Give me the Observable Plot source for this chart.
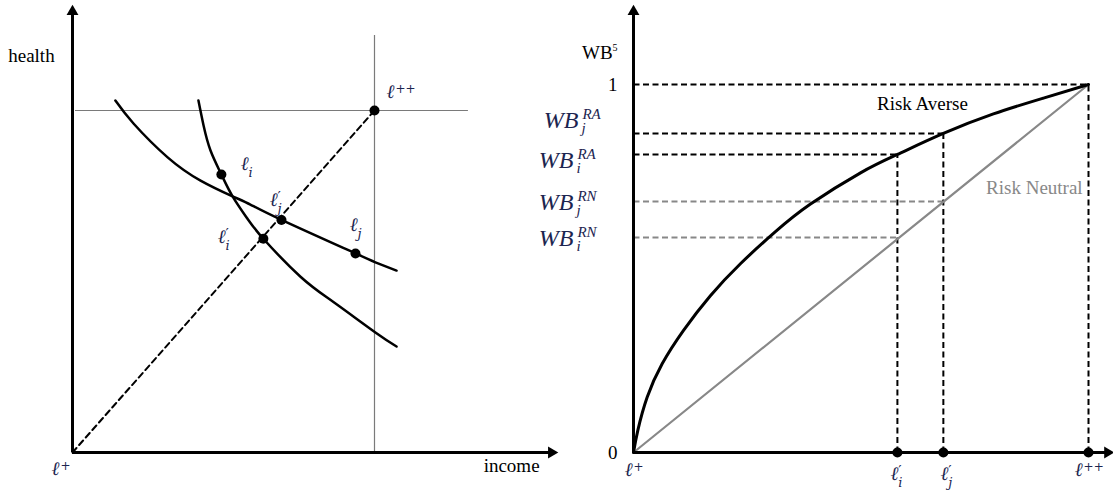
<!DOCTYPE html>
<html><head><meta charset="utf-8">
<script src="https://cdn.jsdelivr.net/npm/d3@7"></script>
<script src="https://cdn.jsdelivr.net/npm/@observablehq/plot@0.6"></script>
<style>
html,body{margin:0;padding:0;background:#fff;}
#wrap{display:flex;width:1113px;height:496px;overflow:hidden;background:#fff;}
#wrap svg{display:block;overflow:visible;}
</style></head><body><div id="wrap"></div>
<script>
// ---------- LEFT PANEL: income (x) / health (y), ℓ++ = (1, 1) ----------
const curveAIncome = [0.142, 0.202, 0.315, 0.424, 0.530, 0.589, 0.692, 0.937, 1.003, 1.073];
const curveAHealth = [1.029, 0.962, 0.863, 0.795, 0.749, 0.725, 0.680, 0.582, 0.556, 0.532];
const curveBIncome = [0.417, 0.434, 0.457, 0.493, 0.530, 0.579, 0.632, 0.755, 0.864, 1.003, 1.073];
const curveBHealth = [1.029, 0.956, 0.883, 0.813, 0.749, 0.684, 0.625, 0.514, 0.440, 0.351, 0.310];
const pointIncome = [0.493, 0.632, 0.692, 0.937, 1];     // ℓi, ℓ'i, ℓ'j, ℓj, ℓ++
const pointHealth = [0.813, 0.625, 0.680, 0.582, 1];
const diagIncome = [0, 1];
const diagHealth = [0, 1];
const leftAxisEnd = [1.586, 1.289];      // income arrow, health arrow
const leftGuide = [1.311, 1.219];        // extent of thin guide lines through ℓ++
const leftLabelMain = ["ℓ", "ℓ", "ℓ", "ℓ", "ℓ", "ℓ"];
const leftLabelSup  = ["", "′", "′", "", "++", "+"];
const leftLabelSub  = ["i", "j", "i", "j", "", ""];
const leftLabelX = [0.583, 0.679, 0.507, 0.944, 1.066, -0.043];
const leftLabelY = [0.825, 0.722, 0.614, 0.649, 1.038, -0.067];
const leftAxisTitles = ["health", "income"];
const leftAxisTitleX = [-0.136, 1.454];
const leftAxisTitleY = [1.161, -0.038];

// ---------- RIGHT PANEL: outcome (x) / WB (y) ----------
const wbIncome      = [0, 0.0095, 0.030, 0.063, 0.110, 0.169, 0.235, 0.312, 0.389, 0.499, 0.580, 0.681, 0.791, 0.901, 1];
const wbRiskAverse  = [0, 0.060, 0.150, 0.241, 0.332, 0.426, 0.513, 0.600, 0.675, 0.760, 0.810, 0.867, 0.920, 0.963, 1];
const rnIncome = [0, 1];
const rnWB = [0, 1];
const outcomeX  = [0.580, 0.681, 1];     // ℓ'i, ℓ'j, ℓ++
const outcomeRA = [0.810, 0.867, 1];
const outcomeRN = [0.584, 0.682];
const rightAxisEnd = [1.042, 1.198];
const wbTickText = ["0", "1"];
const wbTickValue = [0, 1];
const wbLabelSup = ["RA", "RA", "RN", "RN"];
const wbLabelSub = ["j", "i", "j", "i"];
const wbLabelX = [-0.121, -0.132, -0.132, -0.132];
const wbLabelY = [0.883, 0.774, 0.658, 0.5625];
const rightLabelMain = ["ℓ", "ℓ", "ℓ", "ℓ"];
const rightLabelSup  = ["+", "′", "′", "++"];
const rightLabelSub  = ["", "i", "j", ""];
const rightLabelX = [-0.002, 0.582, 0.692, 0.987];
const rightLabelY = [-0.0625, -0.076, -0.076, -0.0625];
const curveNames = ["Risk Averse", "Risk Neutral"];
const curveNameX = [0.635, 0.881];
const curveNameY = [0.946, 0.720];
const yTitle = ["WB"], yTitleSup = ["5"];

// ---------- helpers ----------
const idx = a => a.map((_, i) => i);
const NAVY = "#1c2550";
const SERIF = "'Liberation Serif', 'Times New Roman', Times, serif";
const MATH = "'DejaVu Serif', 'Liberation Serif', serif";

function mathLabels(main, sup, sub, X, Y) {
  const I = idx(main);
  return [
    Plot.text(I, {x: i => X[i], y: i => Y[i], text: i => main[i], textAnchor: "end", lineAnchor: "bottom",
      fontFamily: MATH, fontStyle: "italic", fontSize: 19, fill: NAVY}),
    Plot.text(I.filter(i => sup[i] === "′"), {x: i => X[i], y: i => Y[i], text: i => sup[i], textAnchor: "start", lineAnchor: "bottom",
      dx: 0, dy: -4, fontFamily: MATH, fontSize: 15, fill: NAVY}),
    Plot.text(I.filter(i => sup[i] && sup[i] !== "′"), {x: i => X[i], y: i => Y[i], text: i => sup[i], textAnchor: "start", lineAnchor: "bottom",
      dx: 1, dy: -5, fontFamily: MATH, fontSize: 12, fill: NAVY}),
    Plot.text(I.filter(i => sub[i]), {x: i => X[i], y: i => Y[i], text: i => sub[i], textAnchor: "start", lineAnchor: "bottom",
      dx: 0, dy: 7, fontFamily: MATH, fontStyle: "italic", fontSize: 13, fill: NAVY})
  ];
}

// ---------- LEFT PLOT ----------
const left = Plot.plot({
  width: 560, height: 496,
  marginLeft: 72, marginRight: 4.8, marginTop: 7.4, marginBottom: 44,
  x: {domain: [0, 1.6], axis: null},
  y: {domain: [0, 1.3], axis: null},
  style: {background: "transparent", overflow: "visible"},
  marks: [
    Plot.ruleY([pointHealth[4]], {x1: 0.01, x2: leftGuide[0], stroke: "#7a7a7a", strokeWidth: 1.2}),
    Plot.ruleX([pointIncome[4]], {y1: 0, y2: leftGuide[1], stroke: "#7a7a7a", strokeWidth: 1.2}),
    Plot.line(idx(diagIncome), {x: i => diagIncome[i], y: i => diagHealth[i], stroke: "black", strokeWidth: 2, strokeDasharray: "6,4"}),
    Plot.line(idx(curveAIncome), {x: i => curveAIncome[i], y: i => curveAHealth[i], curve: "natural", stroke: "black", strokeWidth: 2.5}),
    Plot.line(idx(curveBIncome), {x: i => curveBIncome[i], y: i => curveBHealth[i], curve: "natural", stroke: "black", strokeWidth: 2.5}),
    Plot.dot(idx(pointIncome), {x: i => pointIncome[i], y: i => pointHealth[i], r: 5, fill: "black"}),
    Plot.ruleY([0], {x1: 0, x2: leftAxisEnd[0], stroke: "black", strokeWidth: 3}),
    Plot.ruleX([0], {y1: 0, y2: leftAxisEnd[1], stroke: "black", strokeWidth: 3}),
    Plot.dot([0], {x: leftAxisEnd[0], y: 0, symbol: "triangle", r: 4.4, fill: "black", rotate: 90}),
    Plot.dot([0], {x: 0, y: leftAxisEnd[1], symbol: "triangle", r: 4.4, fill: "black"}),
    Plot.text(idx(leftAxisTitles), {x: i => leftAxisTitleX[i], y: i => leftAxisTitleY[i], text: i => leftAxisTitles[i],
      fontFamily: SERIF, fontSize: 19, fill: "black"}),
    ...mathLabels(leftLabelMain, leftLabelSup, leftLabelSub, leftLabelX, leftLabelY)
  ]
});

// ---------- RIGHT PLOT ----------
const I3 = idx(outcomeX), I2 = idx(outcomeRN), I4 = idx(wbLabelSup);
const right = Plot.plot({
  width: 553, height: 496,
  marginLeft: 73, marginRight: 2.25, marginTop: 10.4, marginBottom: 44,
  x: {domain: [0, 1.05], axis: null},
  y: {domain: [0, 1.2], axis: null},
  style: {background: "transparent", overflow: "visible"},
  marks: [
    Plot.link(I2, {x1: 0, x2: i => outcomeX[i], y1: i => outcomeRN[i], y2: i => outcomeRN[i], stroke: "#888", strokeWidth: 2, strokeDasharray: "6,3.5"}),
    Plot.link(I3, {x1: 0, x2: i => outcomeX[i], y1: i => outcomeRA[i], y2: i => outcomeRA[i], stroke: "black", strokeWidth: 2, strokeDasharray: "6,3.5"}),
    Plot.link(I3, {x1: i => outcomeX[i], x2: i => outcomeX[i], y1: 0, y2: i => outcomeRA[i], stroke: "black", strokeWidth: 2, strokeDasharray: "6,3.5"}),
    Plot.line(idx(rnIncome), {x: i => rnIncome[i], y: i => rnWB[i], stroke: "#888", strokeWidth: 2.2}),
    Plot.line(idx(wbIncome), {x: i => wbIncome[i], y: i => wbRiskAverse[i], curve: "natural", stroke: "black", strokeWidth: 3}),
    Plot.ruleY([0], {x1: 0, x2: rightAxisEnd[0], stroke: "black", strokeWidth: 3}),
    Plot.ruleX([0], {y1: 0, y2: rightAxisEnd[1], stroke: "black", strokeWidth: 3}),
    Plot.dot([0], {x: rightAxisEnd[0], y: 0, symbol: "triangle", r: 4.4, fill: "black", rotate: 90}),
    Plot.dot([0], {x: 0, y: rightAxisEnd[1], symbol: "triangle", r: 4.4, fill: "black"}),
    Plot.dot(I3, {x: i => outcomeX[i], y: 0, r: 5, fill: "black"}),
    Plot.text(idx(wbTickText), {x: -0.035, y: i => wbTickValue[i], text: i => wbTickText[i], textAnchor: "end",
      fontFamily: SERIF, fontSize: 19, fill: "black"}),
    Plot.text(yTitle, {x: -0.035, y: 1.07, text: d => d, textAnchor: "end", lineAnchor: "bottom", dx: -5,
      fontFamily: SERIF, fontSize: 19, fill: "black"}),
    Plot.text(yTitleSup, {x: -0.035, y: 1.07, text: d => d, textAnchor: "end", lineAnchor: "bottom", dy: -8,
      fontFamily: SERIF, fontSize: 10, fill: "black"}),
    Plot.text(I4, {x: i => wbLabelX[i], y: i => wbLabelY[i], text: () => "WB", textAnchor: "end", lineAnchor: "bottom",
      fontFamily: SERIF, fontStyle: "italic", fontSize: 24, fill: NAVY}),
    Plot.text(I4, {x: i => wbLabelX[i], y: i => wbLabelY[i], text: i => wbLabelSup[i], textAnchor: "start", lineAnchor: "bottom",
      dx: 4, dy: -9, fontFamily: SERIF, fontStyle: "italic", fontSize: 15, fill: NAVY}),
    Plot.text(I4, {x: i => wbLabelX[i], y: i => wbLabelY[i], text: i => wbLabelSub[i], textAnchor: "start", lineAnchor: "bottom",
      dx: 3, dy: 5, fontFamily: SERIF, fontStyle: "italic", fontSize: 15, fill: NAVY}),
    Plot.text(idx(curveNames), {x: i => curveNameX[i], y: i => curveNameY[i], text: i => curveNames[i],
      fontFamily: SERIF, fontSize: 19, fill: i => i === 0 ? "black" : "#888"}),
    ...mathLabels(rightLabelMain, rightLabelSup, rightLabelSub, rightLabelX, rightLabelY)
  ]
});

const wrap = document.getElementById("wrap");
wrap.appendChild(left);
wrap.appendChild(right);
</script></body></html>
